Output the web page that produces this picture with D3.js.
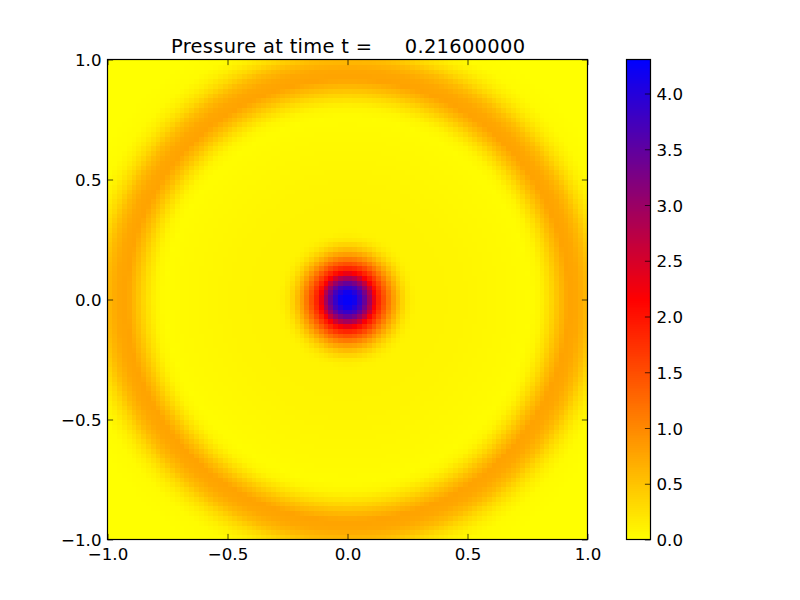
<!DOCTYPE html>
<html><head><meta charset="utf-8">
<script src="https://cdn.jsdelivr.net/npm/d3@7"></script>
<style>html,body{margin:0;padding:0;background:#fff}svg{display:block}text{font-family:"DejaVu Sans";fill:#000}</style>
</head><body><svg id="c" width="800" height="600"></svg>
<script>
const titleText = "Pressure at time t =     0.21600000";
const gridSize = 100;
const profileRadius = [0,0.03,0.06,0.08,0.1,0.115,0.13,0.16,0.19,0.22,0.25,0.28,0.32,0.4,0.5,0.6,0.7,0.76,0.8,0.84,0.88,0.92,0.96,1.0,1.04,1.08,1.12,1.2,1.5];
const profileValue  = [4.3,4.2,3.7,3.2,2.65,2.15,1.85,1.3,0.82,0.45,0.2,0.1,0.09,0.09,0.08,0.06,0.04,0.02,0.08,0.28,0.55,0.78,0.74,0.58,0.32,0.13,0.03,0,0];
const xTicks = [-1,-0.5,0,0.5,1];
const yTicks = [-1,-0.5,0,0.5,1];
const barTicks = [0,0.5,1,1.5,2,2.5,3,3.5,4];
const colorStops = ["#ffff00","#ff0000","#0000ff"];
const valueMax = 4.305;

const svg = d3.select("#c");
const plot = {l:107.5,r:587.5,t:59.5,b:539.5};
const bar = {l:626.5,r:650.5,t:59.5,b:539.5};
const x = d3.scaleLinear().domain([-1,1]).range([plot.l,plot.r]);
const y = d3.scaleLinear().domain([-1,1]).range([plot.b,plot.t]);
const vy = d3.scaleLinear().domain([0,valueMax]).range([bar.b,bar.t]);
const color = d3.scaleLinear().domain([0,valueMax/2,valueMax]).range(colorStops);
const profile = d3.scaleLinear().domain(profileRadius).range(profileValue).clamp(true);

// field
const cells = [];
const step = 2/gridSize;
d3.range(gridSize).forEach(i=>d3.range(gridSize).forEach(j=>{
  const cx=-1+(i+.5)*step, cy=-1+(j+.5)*step;
  cells.push({x0:-1+i*step,y0:-1+j*step,v:profile(Math.hypot(cx,cy))});
}));
svg.append("g").attr("shape-rendering","crispEdges").selectAll("rect").data(cells).join("rect")
  .attr("x",d=>x(d.x0)).attr("y",d=>y(d.y0+step))
  .attr("width",x(step)-x(0)+.5).attr("height",y(0)-y(step)+.5)
  .attr("fill",d=>color(d.v));

// colorbar
const barVals = d3.range(0,256).map(i=>i/255*valueMax);
const barStep = valueMax/255;
svg.append("g").attr("shape-rendering","crispEdges").selectAll("rect").data(barVals.slice(0,-1)).join("rect")
  .attr("x",bar.l).attr("width",bar.r-bar.l)
  .attr("y",d=>vy(d+barStep)).attr("height",d=>vy(d)-vy(d+barStep)+.5).attr("fill",d=>color(d+barStep/2));

function style(g){g.selectAll("text").style("font-size","16.67px").style("font-family","DejaVu Sans").attr("fill","#000");
  g.selectAll("line").attr("stroke","#000").attr("stroke-width",.7);g.select(".domain").remove();}
const fmt = d=>d3.format(".1f")(d).replace("-","\u2212");
const tick = -5.6;
const lowerLabels = g=>g.selectAll("text").attr("dy","0.37em");

svg.append("g").attr("transform",`translate(0,${plot.b})`)
  .call(d3.axisBottom(x).tickValues(xTicks).tickFormat(fmt).tickSizeInner(tick).tickPadding(9).tickSizeOuter(0)).call(style);
svg.append("g").attr("transform",`translate(0,${plot.t})`)
  .call(d3.axisTop(x).tickValues(xTicks).tickFormat("").tickSizeInner(tick).tickSizeOuter(0)).call(style);
svg.append("g").attr("transform",`translate(${plot.l},0)`)
  .call(d3.axisLeft(y).tickValues(yTicks).tickFormat(fmt).tickSizeInner(tick).tickPadding(6).tickSizeOuter(0)).call(style).call(lowerLabels);
svg.append("g").attr("transform",`translate(${plot.r},0)`)
  .call(d3.axisRight(y).tickValues(yTicks).tickFormat("").tickSizeInner(tick).tickSizeOuter(0)).call(style);
svg.append("g").attr("transform",`translate(${bar.r},0)`)
  .call(d3.axisRight(vy).tickValues(barTicks).tickFormat(d3.format(".1f")).tickSizeInner(tick).tickPadding(6).tickSizeOuter(0)).call(style).call(lowerLabels);

const frame=(b)=>svg.append("rect").attr("x",b.l).attr("y",b.t).attr("width",b.r-b.l).attr("height",b.b-b.t)
  .attr("fill","none").attr("stroke","#000").attr("stroke-width",1.2);
frame(plot);frame(bar);

svg.append("text").attr("x",348).attr("y",52.5).attr("text-anchor","middle")
  .attr("textLength",354).attr("lengthAdjust","spacing")
  .style("font-size","19.44px").style("white-space","pre").attr("xml:space","preserve").text(titleText);
</script></body></html>
